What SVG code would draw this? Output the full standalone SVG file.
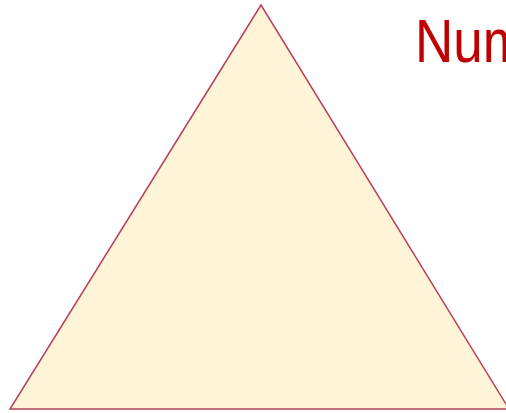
<svg xmlns="http://www.w3.org/2000/svg" width="506" height="413" viewBox="0 0 506 413">
<style>
.tri{fill:#fff3d8;stroke:#b8405a;stroke-width:1.5}
.lbl{font-family:"Liberation Sans",Arial,sans-serif;font-size:53px;fill:#c00000}
</style>
<rect width="506" height="413" fill="#ffffff"/>
<g id="triangle">
<polygon class="tri" points="261,5 10,409 509,409"/>
</g>
<g id="title">
<text class="lbl" transform="translate(415,62) scale(1,1.16)" x="0" y="0">Num</text>
</g>
</svg>
